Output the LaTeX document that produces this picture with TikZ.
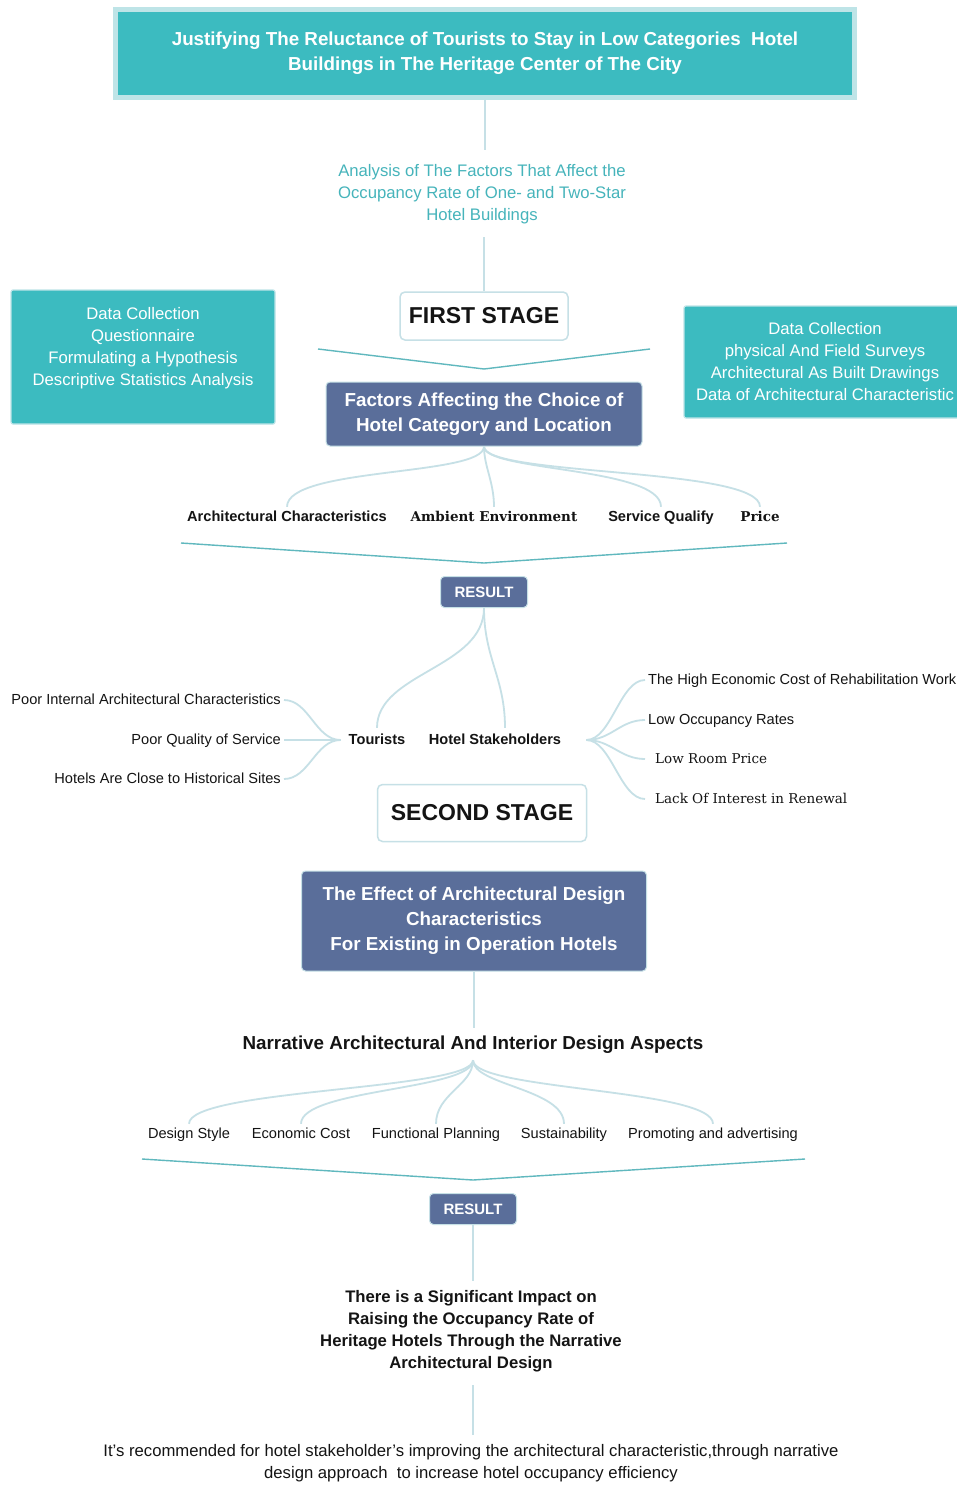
\documentclass[tikz,border=0pt]{standalone}
\usepackage{fontspec}
\setmainfont{Liberation Sans}
\newfontfamily\serifface{DejaVu Serif}
\usetikzlibrary{calc}

\definecolor{cTeal}{RGB}{60,187,192}
\definecolor{cTealEdge}{RGB}{190,228,231}
\definecolor{cSlate}{RGB}{90,110,154}
\definecolor{cLink}{RGB}{198,224,230}
\definecolor{cVee}{RGB}{96,184,190}
\definecolor{cTealText}{RGB}{70,180,187}
\definecolor{cInk}{RGB}{20,20,20}

\begin{document}
\begin{tikzpicture}[x=1pt,y=-1pt,
    tealbox/.style={fill=cTeal,draw=cTealEdge,line width=1.2pt,rounded corners=2pt,text=white,align=center,font=\fontsize{16.7}{22}\selectfont},
    slatebox/.style={fill=cSlate,draw=cLink,line width=1pt,rounded corners=4pt,text=white,align=center,font=\fontsize{18.8}{25}\selectfont\bfseries},
    stagebox/.style={fill=white,draw=cLink,line width=1.5pt,rounded corners=5pt,text=cInk,font=\bfseries},
    resbox/.style={slatebox,font=\fontsize{15}{17}\selectfont\bfseries,minimum width=87,minimum height=31},
    lbl/.style={text=cInk,inner sep=3pt,text height=11pt,text depth=3pt,font=\fontsize{14.6}{17}\selectfont\bfseries},
    leaf/.style={text=cInk,inner sep=3pt,text height=11pt,text depth=3pt,font=\fontsize{14.6}{17}\selectfont},
    branch/.style={draw=cLink,line width=1.8pt},
    vee/.style={draw=cVee,line width=1.4pt}]
    \clip (0,0) rectangle (957,1485);
    \fill[white] (0,0) rectangle (957,1485);

    % first stage
    \node[fill=cTeal,draw=cTealEdge,line width=5pt,minimum width=739,minimum height=88,text=white,align=center,font=\fontsize{18.8}{25}\selectfont\bfseries] (title) at (485,53.5) {Justifying The Reluctance of Tourists to Stay in Low Categories\ \ Hotel\\Buildings in The Heritage Center of The City};
    \node[text=cTealText,align=center,font=\fontsize{16.7}{22}\selectfont] (analysis) at (482,194) {Analysis of The Factors That Affect the\\Occupancy Rate of One- and Two-Star\\Hotel Buildings};
    \node[stagebox,minimum width=168,minimum height=48,font=\fontsize{23}{26}\selectfont\bfseries] (first) at (484,316) {FIRST STAGE};
    \node[tealbox,minimum width=264,minimum height=134] (lbox) at (143,357) {Data Collection\\Questionnaire\\Formulating a Hypothesis\\Descriptive Statistics Analysis\\\mbox{}};
    \node[tealbox,minimum width=282,minimum height=112] (rbox) at (825,362) {Data Collection\\physical And Field Surveys\\Architectural As Built Drawings\\Data of Architectural Characteristic};
    \node[slatebox,minimum width=316,minimum height=64] (factors) at (484,414) {Factors Affecting the Choice of\\Hotel Category and Location};

    \node[lbl] (archc) at (287,517) {Architectural Characteristics};
    \node[lbl,font=\fontsize{13.5}{17}\selectfont\serifface\bfseries] (ambient) at (494,517) {Ambient Environment};
    \node[lbl] (service) at (661,517) {Service Qualify};
    \node[lbl,font=\fontsize{13.5}{17}\selectfont\serifface\bfseries] (price) at (760,517) {Price};

    \coordinate (veeAl) at (318,349);
    \coordinate (veeAm) at (484,369);
    \coordinate (veeAr) at (650,349);
    \coordinate (veeBl) at (181,543);
    \coordinate (veeBm) at (484,563);
    \coordinate (veeBr) at (787,543);

    \node[resbox] (resA) at (484,592) {RESULT};

    \node[lbl] (tourists) at (377,740) {Tourists};
    \node[lbl] (stake) at (495,740) {Hotel Stakeholders};

    \node[leaf,anchor=east] (poorarch) at (284,700) {Poor Internal Architectural Characteristics};
    \node[leaf,anchor=east] (poorserv) at (284,740) {Poor Quality of Service};
    \node[leaf,anchor=east] (closesites) at (284,779) {Hotels Are Close to Historical Sites};

    \node[leaf,anchor=west] (highcost) at (645,680) {The High Economic Cost of Rehabilitation Work};
    \node[leaf,anchor=west] (lowocc) at (645,720) {Low Occupancy Rates};
    \node[leaf,anchor=west,font=\fontsize{13.5}{17}\selectfont\serifface] (lowprice) at (652,759) {Low Room Price};
    \node[leaf,anchor=west,font=\fontsize{13.5}{17}\selectfont\serifface] (nointerest) at (652,799) {Lack Of Interest in Renewal};

    % second stage
    \node[stagebox,minimum width=209,minimum height=57,font=\fontsize{23}{27}\selectfont\bfseries] (second) at (482,813) {SECOND STAGE};
    \node[slatebox,minimum width=345,minimum height=100] (effect) at (474,921) {The Effect of Architectural Design\\Characteristics\\For Existing in Operation Hotels};
    \node[lbl,font=\fontsize{18.8}{22}\selectfont\bfseries,text height=14pt,text depth=4pt] (narrative) at (473,1044) {Narrative Architectural And Interior Design Aspects};

    \node[leaf] (dstyle) at (189,1134) {Design Style};
    \node[leaf] (ecost) at (301,1134) {Economic Cost};
    \node[leaf] (fplan) at (436,1134) {Functional Planning};
    \node[leaf] (sustain) at (564,1134) {Sustainability};
    \node[leaf] (promo) at (713,1134) {Promoting and advertising};

    \coordinate (veeCl) at (142,1159);
    \coordinate (veeCm) at (473,1180);
    \coordinate (veeCr) at (805,1159);

    \node[resbox] (resB) at (473,1209) {RESULT};
    \node[text=cInk,align=center,font=\fontsize{16.7}{22}\selectfont\bfseries] (impact) at (471,1331) {There is a Significant Impact on\\Raising the Occupancy Rate of\\Heritage Hotels Through the Narrative\\Architectural Design};
    \node[text=cInk,align=center,font=\fontsize{16.7}{22}\selectfont] (recommend) at (471,1463) {It’s recommended for hotel stakeholder’s improving the architectural characteristic,through narrative\\design approach\ \ to increase hotel occupancy efficiency};

    % connectors
    \draw[branch] (title.south) -- ([yshift=11pt]title.south |- analysis.north);
    \draw[branch] ([yshift=-10pt]first.north |- analysis.south) -- (first.north);
    \draw[vee] (veeAl) -- (veeAm) -- (veeAr);

    \draw[branch] (factors.south) .. controls +(0,30) and +(0,-40) .. (archc.north);
    \draw[branch] (factors.south) .. controls +(0,20) and +(0,-25) .. (ambient.north);
    \draw[branch] (factors.south) .. controls +(0,25) and +(0,-40) .. (service.north);
    \draw[branch] (factors.south) .. controls +(0,30) and +(0,-40) .. (price.north);
    \draw[vee] (veeBl) -- (veeBm) -- (veeBr);

    \draw[branch] (resA.south) .. controls +(0,60) and +(0,-55) .. ([yshift=2pt]tourists.north);
    \draw[branch] (resA.south) .. controls +(0,50) and +(0,-50) .. ([xshift=10pt,yshift=2pt]stake.north);

    \draw[branch] ([xshift=-5pt]tourists.west) .. controls +(-25,0) and +(25,0) .. (poorarch.east);
    \draw[branch] ([xshift=-5pt]tourists.west) -- (poorserv.east);
    \draw[branch] ([xshift=-5pt]tourists.west) .. controls +(-25,0) and +(25,0) .. (closesites.east);

    \draw[branch] ([xshift=22pt]stake.east) .. controls +(25,0) and +(-25,0) .. (highcost.west);
    \draw[branch] ([xshift=22pt]stake.east) .. controls +(25,0) and +(-25,0) .. (lowocc.west);
    \draw[branch] ([xshift=22pt]stake.east) .. controls +(25,0) and +(-25,0) .. ([xshift=-7pt]lowprice.west);
    \draw[branch] ([xshift=22pt]stake.east) .. controls +(25,0) and +(-25,0) .. ([xshift=-7pt]nointerest.west);

    \draw[branch] (effect.south) -- ([yshift=4pt]effect.south |- narrative.north);
    \draw[branch] ([yshift=-4pt]narrative.south) .. controls +(0,30) and +(0,-35) .. (dstyle.north);
    \draw[branch] ([yshift=-4pt]narrative.south) .. controls +(0,30) and +(0,-35) .. (ecost.north);
    \draw[branch] ([yshift=-4pt]narrative.south) .. controls +(0,25) and +(0,-30) .. (fplan.north);
    \draw[branch] ([yshift=-4pt]narrative.south) .. controls +(0,25) and +(0,-35) .. (sustain.north);
    \draw[branch] ([yshift=-4pt]narrative.south) .. controls +(0,30) and +(0,-35) .. (promo.north);
    \draw[vee] (veeCl) -- (veeCm) -- (veeCr);

    \draw[branch] (resB.south) -- ([yshift=6pt]resB.south |- impact.north);
    \draw[branch] ([yshift=-10pt]resB.south |- impact.south) -- ([yshift=6pt]resB.south |- recommend.north);
\end{tikzpicture}
\end{document}
